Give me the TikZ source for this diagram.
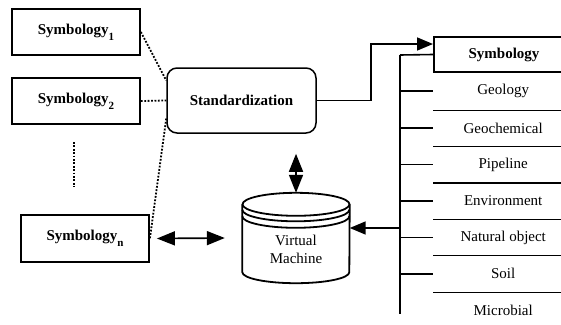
\documentclass[tikz,border=0pt]{standalone}
\usepackage{fontspec}
\setmainfont{Liberation Serif}
\usetikzlibrary{arrows.meta,calc}
\newcommand\mysub[1]{\raisebox{-6pt}{\fontsize{11}{11}\selectfont #1}}
\begin{document}
\begin{tikzpicture}[x=1pt,y=-1pt,
  box/.style={draw, line width=1.8pt, minimum width=128pt, minimum height=46pt, inner sep=0pt, font=\fontsize{15}{18}\selectfont\bfseries},
  stdbox/.style={draw, line width=1.5pt, rounded corners=10pt, minimum width=149pt, minimum height=65pt, inner sep=0pt, font=\fontsize{15}{18}\selectfont\bfseries},
  dots/.style={line width=1.8pt, dash pattern=on 1.8pt off 1.6pt},
  rowbox/.style={minimum width=140pt, inner sep=0pt, anchor=west, font=\fontsize{15}{18}\selectfont},
  hdrbox/.style={draw, line width=2pt, minimum width=140pt, minimum height=35pt, inner sep=0pt, anchor=west, font=\fontsize{15}{18}\selectfont\bfseries},
  sep/.style={line width=1.1pt},
  bus/.style={line width=2pt},
  tick/.style={line width=1.6pt},
  conn/.style={line width=1.7pt},
  tip/.style={-{Triangle[length=16pt,width=13pt]}},
  dbl/.style={{Triangle[length=18pt,width=14pt]}-{Triangle[length=18pt,width=14pt]}},
  cyl/.style={line width=1.8pt}]
\clip (0,0) rectangle (561,324);
% left boxes
\node[box] (s1) at (76,32) {Symbology\mysub{1}};
\node[box] (s2) at (76,101) {Symbology\mysub{2}};
\node[box, minimum height=47pt] (sn) at (85,238.5) {Symbology\mysub{n}};
\coordinate (ea) at (74,142);
\coordinate (eb) at (74,187);
\draw[dots] (ea) -- (eb);
% standardization
\node[stdbox] (std) at (241.5,100.5) {Standardization};
\draw[dots] (s1.east) -- ([yshift=20pt]std.west);
\draw[dots] (s2.east) -- (std.west);
\draw[dots] ([yshift=-18pt]std.west) -- (sn.east);
% virtual machine
\node[minimum width=107pt, minimum height=90pt, inner sep=0pt] (vm) at (296,238) {};
\draw[cyl] ($(vm.north)+(0,11.5)$) ellipse [x radius=53.5pt, y radius=11.5pt];
\draw[cyl] ($(vm.north west)+(0,11.5)$) -- ($(vm.south west)+(0,-11)$)
  arc[start angle=180, end angle=360, x radius=53.5pt, y radius=11pt]
  -- ($(vm.north east)+(0,11.5)$);
\draw[cyl] ($(vm.north west)+(0,17)$) arc[start angle=180, end angle=360, x radius=53.5pt, y radius=11.5pt];
\draw[cyl] ($(vm.north west)+(0,23.5)$) arc[start angle=180, end angle=360, x radius=53.5pt, y radius=11.5pt];
\node[align=center, font=\fontsize{15}{18}\selectfont, inner sep=0pt] (vml) at (296,249.5) {Virtual\\Machine};
\draw[conn, dbl] ([yshift=39pt]vm.north) -- (vm.north);
\draw[conn, dbl] ([xshift=7pt]sn.east) -- ([xshift=-17.5pt]vm.west);
% table
\node[hdrbox] (hdr) at (433,54.5) {Symbology};
\node[rowbox, minimum height=38pt] (r1) at (433,91) {Geology};
\node[rowbox, minimum height=36.4pt] (r2) at (433,128.2) {Geochemical};
\node[rowbox, minimum height=36.4pt] (r3) at (433,164.6) {Pipeline};
\node[rowbox, minimum height=36.4pt] (r4) at (433,201) {Environment};
\node[rowbox, minimum height=36.4pt] (r5) at (433,237.4) {Natural object};
\node[rowbox, minimum height=36.4pt] (r6) at (433,273.8) {Soil};
\node[rowbox, minimum height=36.4pt] (r7) at (433,310.2) {Microbial};
\foreach \r in {r1,r2,r3,r4,r5,r6}{
  \draw[sep] (\r.south west) -- (\r.south east);
}
\coordinate (bt) at (400,55);
\coordinate (bb) at (400,314);
\coordinate (bm) at (400,228);
\draw[bus] (bt) -- (bb);
\draw[tick] (bt) -- (hdr.west);
\foreach \r in {r1,r2,r3,r4,r5,r6}{
  \draw[tick] (bt |- \r.west) -- (\r.west);
}
\draw[conn, tip] (bm) -- (vm.east |- bm);
\draw[conn, tip] (std.east) -- ++(54,0) |- ([yshift=-8pt]hdr.north west);
\end{tikzpicture}
\end{document}
